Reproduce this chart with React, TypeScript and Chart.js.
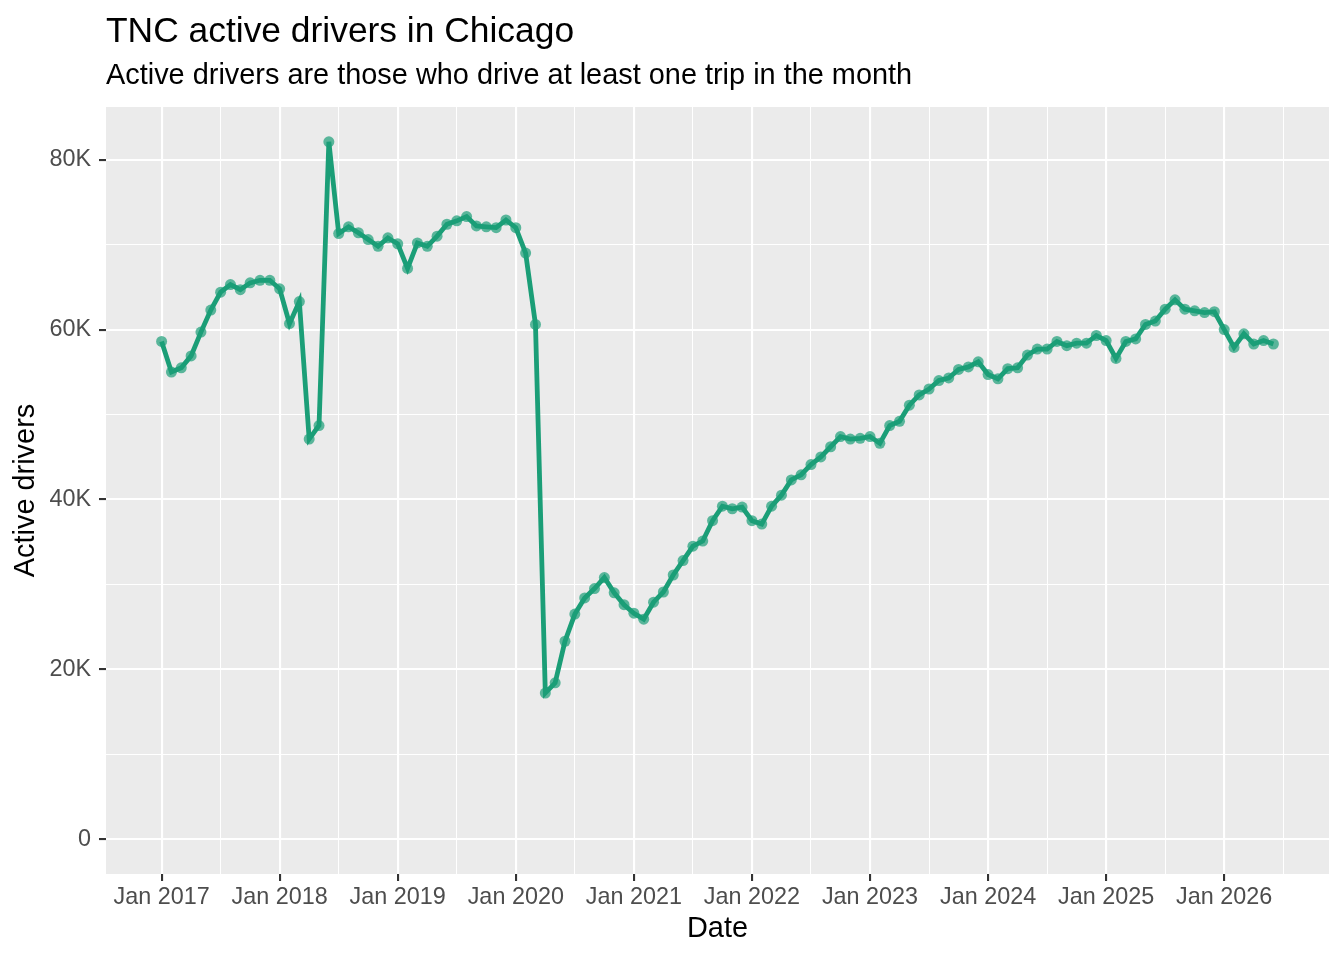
import React, { useEffect, useRef } from 'react';
import { Chart, registerables } from 'chart.js';

Chart.register(...registerables);

// monthly active drivers, Jan 2017 .. Jun 2026
const activeDrivers = [
  58600, 55000, 55500, 56900, 59700, 62300, 64400, 65300, 64700, 65500, 65800, 65800,
  64800, 60700, 63300, 47100, 48700, 82100, 71300, 72100, 71400, 70600, 69800, 70800,
  70100, 67200, 70200, 69800, 71000, 72400, 72800, 73300, 72200, 72100, 72000, 72900,
  72000, 69000, 60600, 17200, 18400, 23300, 26500, 28400, 29500, 30800, 29000, 27600,
  26600, 25900, 27900, 29100, 31100, 32800, 34500, 35100, 37500, 39200, 38900, 39100,
  37500, 37100, 39200, 40500, 42300, 42900, 44100, 45000, 46200, 47400, 47100, 47200,
  47400, 46600, 48700, 49200, 51100, 52300, 53000, 54000, 54300, 55300, 55600, 56200,
  54700, 54200, 55400, 55500, 57000, 57700, 57700, 58600, 58100, 58400, 58400, 59300,
  58700, 56600, 58600, 58900, 60600, 61000, 62400, 63500, 62400, 62200, 62000, 62100,
  60000, 57900, 59500, 58300, 58700, 58300,
];

const xTickLabels = [
  'Jan 2017', 'Jan 2018', 'Jan 2019', 'Jan 2020', 'Jan 2021',
  'Jan 2022', 'Jan 2023', 'Jan 2024', 'Jan 2025', 'Jan 2026',
];
const yTickValues = [0, 20000, 40000, 60000, 80000];
const yTickLabels = ['0', '20K', '40K', '60K', '80K'];
const yMinorValues = [10000, 30000, 50000, 70000];

// x is months since Jan 2017
const xMajorValues = xTickLabels.map((_, i) => i * 12);
const xAllValues = xMajorValues.flatMap((v) => [v, v + 6]);

const FONT = '"Liberation Sans", Arial, Helvetica, sans-serif';
Chart.defaults.font.family = FONT;

const panelBackground = {
  id: 'panelBackground',
  beforeDraw(chart: Chart) {
    const { ctx, chartArea } = chart;
    ctx.save();
    ctx.fillStyle = '#EBEBEB';
    ctx.fillRect(chartArea.left, chartArea.top, chartArea.width, chartArea.height);
    ctx.restore();
  },
};

const plotTitles = {
  id: 'plotTitles',
  afterDraw(chart: Chart) {
    const { ctx, chartArea } = chart;
    ctx.save();
    ctx.fillStyle = '#000000';
    ctx.textAlign = 'left';
    ctx.textBaseline = 'alphabetic';
    ctx.font = `35.4px ${FONT}`;
    ctx.fillText('TNC active drivers in Chicago', chartArea.left, 41.5);
    ctx.font = `28.9px ${FONT}`;
    ctx.fillText('Active drivers are those who drive at least one trip in the month', chartArea.left, 84);
    ctx.restore();
  },
};

export default function App() {
  const chartRef = useRef<HTMLCanvasElement>(null);
  const chartInstance = useRef<Chart | null>(null);

  useEffect(() => {
    if (!chartRef.current) return;
    if (chartInstance.current) {
      chartInstance.current.destroy();
    }

    chartInstance.current = new Chart(chartRef.current, {
      type: 'line',
      data: {
        datasets: [
          {
            label: 'Active drivers',
            data: activeDrivers.map((v, i) => ({ x: i, y: v })),
            borderColor: '#1B9E77',
            borderWidth: 4.8,
            pointRadius: 5.5,
            pointBorderWidth: 0,
            pointBackgroundColor: 'rgba(27, 158, 119, 0.7)',
            tension: 0,
          },
        ],
      },
      options: {
        animation: false,
        responsive: true,
        maintainAspectRatio: false,
        events: [],
        layout: {
          padding: { top: 107, right: 15, left: 0, bottom: 0 },
        },
        plugins: {
          legend: { display: false },
          tooltip: { enabled: false },
        },
        scales: {
          x: {
            type: 'linear',
            min: -5.65,
            max: 118.65,
            afterBuildTicks: (scale: any) => {
              scale.ticks = xAllValues.map((v) => ({ value: v }));
            },
            afterFit: (scale: any) => {
              scale.height = 86;
            },
            border: { display: false },
            grid: {
              color: '#FFFFFF',
              lineWidth: (ctx: any) => (ctx.tick && ctx.tick.value % 12 === 0 ? 2.1 : 1.05),
              tickLength: 7,
              tickWidth: 2.1,
              tickColor: (ctx: any) =>
                ctx.tick && ctx.tick.value % 12 === 0 ? '#333333' : 'rgba(0,0,0,0)',
            },
            ticks: {
              autoSkip: false,
              maxRotation: 0,
              padding: 3,
              color: '#4D4D4D',
              font: { size: 23.4 },
              callback: (value: any) => {
                const idx = xMajorValues.indexOf(Number(value));
                return idx >= 0 ? xTickLabels[idx] : '';
              },
            },
            title: {
              display: true,
              text: 'Date',
              color: '#000000',
              font: { size: 28.9, lineHeight: 1 },
              padding: { top: 0, bottom: 17 },
            },
          },
          y: {
            type: 'linear',
            min: -4105,
            max: 86205,
            afterBuildTicks: (scale: any) => {
              scale.ticks = [...yTickValues, ...yMinorValues]
                .sort((a, b) => a - b)
                .map((v) => ({ value: v }));
            },
            afterFit: (scale: any) => {
              scale.width = 106;
            },
            border: { display: false },
            grid: {
              color: '#FFFFFF',
              lineWidth: (ctx: any) => (ctx.tick && ctx.tick.value % 20000 === 0 ? 2.1 : 1.05),
              tickLength: 7,
              tickWidth: 2.1,
              tickColor: (ctx: any) =>
                ctx.tick && ctx.tick.value % 20000 === 0 ? '#333333' : 'rgba(0,0,0,0)',
            },
            ticks: {
              padding: 8,
              color: '#4D4D4D',
              font: { size: 23.4 },
              callback: (value: any) => {
                const idx = yTickValues.indexOf(Number(value));
                return idx >= 0 ? yTickLabels[idx] : '';
              },
            },
            title: {
              display: true,
              text: 'Active drivers',
              color: '#000000',
              font: { size: 28.9, lineHeight: 1 },
              padding: { top: 12, bottom: 0 },
            },
          },
        },
      },
      plugins: [panelBackground, plotTitles],
    });

    return () => {
      if (chartInstance.current) {
        chartInstance.current.destroy();
        chartInstance.current = null;
      }
    };
  }, []);

  return (
    <div style={{ position: 'absolute', left: 0, top: 0, width: 1344, height: 960, background: '#FFFFFF' }}>
      <canvas ref={chartRef} />
    </div>
  );
}
